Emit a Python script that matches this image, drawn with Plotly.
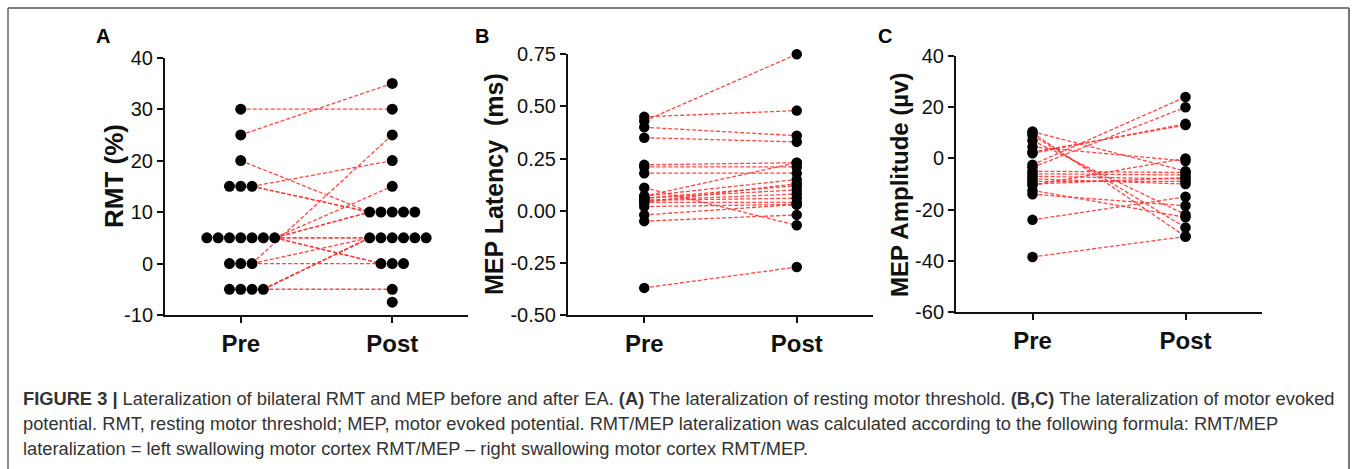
import plotly.graph_objects as go

# ---------------- data ----------------
groups = ["Pre", "Post"]

# Panel A: RMT lateralization (%); one subject has no Pre value
rmt_pre = [30, 25, 20, 15, 15, 15, 0, 0, 0, 5, 5, 5, 5, 5, 5, 5, -5, -5, -5, -5, None]
rmt_post = [30, 35, 10, 20, 10, 10, 25, 0, 5, 15, 10, 10, 5, 5, 0, 0, -5, 5, 5, 5, -7.5]
rmt_ticks = [40, 30, 20, 10, 0, -10]
rmt_ticktext = ["40", "30", "20", "10", "0", "-10"]

# Panel B: MEP latency lateralization (ms)
lat_pre = [0.45, 0.43, 0.40, 0.35, 0.22, 0.21, 0.18, 0.11, 0.07, 0.07,
           0.06, 0.06, 0.05, 0.05, 0.04, 0.04, 0.02, -0.02, -0.05, -0.37]
lat_post = [0.48, 0.75, 0.36, 0.33, 0.23, 0.21, 0.18, -0.07, 0.23, 0.15,
            0.12, 0.10, 0.08, 0.06, 0.04, 0.13, 0.03, 0.03, -0.02, -0.27]
lat_ticks = [0.75, 0.50, 0.25, 0.00, -0.25, -0.50]
lat_ticktext = ["0.75", "0.50", "0.25", "0.00", "-0.25", "-0.50"]

# Panel C: MEP amplitude lateralization (µv)
amp_pre = [10.5, 10, 9, 7, 4.5, 2.5, 2, -2.5, -3.5, -5, -6, -7, -8, -9, -10,
           -10.5, -12.5, -14, -24, -38.5]
amp_post = [-5, -30.5, -27, -22, -1, 13, 13.5, 24, 20, -5.5, -6.5, -8, -10, -9,
            -7.5, 0, -23, -18.5, -15, -30.5]
amp_ticks = [40, 20, 0, -20, -40, -60]
amp_ticktext = ["40", "20", "0", "-20", "-40", "-60"]

caption_lines = [
    "<b>FIGURE 3 |</b> Lateralization of bilateral RMT and MEP before and after EA. "
    "<b>(A)</b> The lateralization of resting motor threshold. <b>(B,C)</b> The lateralization of motor evoked",
    "potential. RMT, resting motor threshold; MEP, motor evoked potential. RMT/MEP lateralization "
    "was calculated according to the following formula: RMT/MEP",
    "lateralization = left swallowing motor cortex RMT/MEP \u2013 right swallowing motor cortex RMT/MEP.",
]

# ---------------- layout helpers ----------------
W, H = 1357, 469
FONT = "Liberation Sans, Arial, sans-serif"
RED = "rgba(255,55,55,0.92)"


def px(x):
    return x / W


def py(y):
    return 1 - y / H


def spread(vals, step):
    """Dot-plot horizontal spreading of identical values."""
    offs = []
    for i, v in enumerate(vals):
        if v is None:
            offs.append(None)
            continue
        same = [j for j, w in enumerate(vals) if w == v]
        k = same.index(i)
        n = len(same)
        offs.append((k - (n - 1) // 2) * step)
    return offs


fig = go.Figure()

panels = [
    dict(pre=rmt_pre, post=rmt_post, ticks=rmt_ticks, ticktext=rmt_ticktext,
         xd=(165, 468), yd=(57.7, 315), spread=True, msize=11,
         title="RMT (%)", tx=114, ty=176, letter="A", lx=103, tsize=26),
    dict(pre=lat_pre, post=lat_post, ticks=lat_ticks, ticktext=lat_ticktext,
         xd=(568, 873), yd=(54.3, 315), spread=False, msize=10.5,
         title="MEP Latency  (ms)", tx=494, ty=184, letter="B", lx=482, tsize=25),
    dict(pre=amp_pre, post=amp_post, ticks=amp_ticks, ticktext=amp_ticktext,
         xd=(956, 1262), yd=(56, 312), spread=False, msize=10.5,
         title="MEP Amplitude (µv)", tx=899, ty=185, letter="C", lx=885, tsize=24),
]

annotations = []
for i, p in enumerate(panels, start=1):
    xa = "x" if i == 1 else f"x{i}"
    ya = "y" if i == 1 else f"y{i}"
    width_px = p["xd"][1] - p["xd"][0]
    unit_px = width_px / 2.0  # x range spans 2 units
    step = (p["msize"] + 0.3) / unit_px
    if p["spread"]:
        off_pre = spread(p["pre"], step)
        off_post = spread(p["post"], step)
    else:
        off_pre = [0 if v is not None else None for v in p["pre"]]
        off_post = [0 for _ in p["post"]]

    # connecting lines (drawn first, under markers)
    for k, (a, b) in enumerate(zip(p["pre"], p["post"])):
        if a is None or b is None:
            continue
        if p["spread"]:
            x0 = max(off_pre[j] for j, v in enumerate(p["pre"]) if v == a)
            x1 = 1 + min(off_post[j] for j, v in enumerate(p["post"]) if v == b)
        else:
            x0, x1 = 0, 1
        fig.add_trace(go.Scatter(
            x=[x0, x1], y=[a, b], mode="lines", xaxis=xa, yaxis=ya,
            line=dict(color=RED, width=1.3, dash="4px,2px"),
            showlegend=False, hoverinfo="skip"))

    xs_pre = [o for o, v in zip(off_pre, p["pre"]) if v is not None]
    ys_pre = [v for v in p["pre"] if v is not None]
    xs_post = [1 + o for o in off_post]
    fig.add_trace(go.Scatter(
        x=xs_pre + xs_post, y=ys_pre + list(p["post"]), mode="markers",
        xaxis=xa, yaxis=ya, cliponaxis=False,
        marker=dict(color="black", size=p["msize"], line=dict(width=0)),
        showlegend=False))

    axis_common = dict(showgrid=False, zeroline=False, showline=True,
                       linecolor="#111", linewidth=2, ticks="outside",
                       tickwidth=2, tickcolor="#111", automargin=False)
    fig.update_layout(**{
        ("xaxis" if i == 1 else f"xaxis{i}"): dict(
            axis_common, domain=[px(p["xd"][0]), px(p["xd"][1])],
            range=[-0.5, 1.5], tickvals=[0, 1],
            ticktext=[f"<b>{g}</b>" for g in groups], ticklen=6,
            anchor=ya, tickfont=dict(family=FONT, size=24, color="#111"),
            ticklabelstandoff=0),
        ("yaxis" if i == 1 else f"yaxis{i}"): dict(
            axis_common, domain=[py(p["yd"][1]), py(p["yd"][0])],
            range=[min(p["ticks"]), max(p["ticks"])], tickvals=p["ticks"],
            ticktext=p["ticktext"], ticklen=6, anchor=xa,
            tickfont=dict(family=FONT, size=20, color="#111")),
    })

    annotations.append(dict(
        text=f"<b>{p['title']}</b>", xref="paper", yref="paper",
        x=px(p["tx"]), y=py(p["ty"]), xanchor="center", yanchor="middle",
        textangle=-90, showarrow=False,
        font=dict(family=FONT, size=p["tsize"], color="#111")))
    annotations.append(dict(
        text=f"<b>{p['letter']}</b>", xref="paper", yref="paper",
        x=px(p["lx"]), y=py(36), xanchor="center", yanchor="middle",
        showarrow=False, font=dict(family=FONT, size=20, color="#000")))

for j, line in enumerate(caption_lines):
    annotations.append(dict(
        text=line, xref="paper", yref="paper", x=px(21), y=py(398 + 25 * j),
        xanchor="left", yanchor="middle", align="left", showarrow=False,
        font=dict(family=FONT, size=18.3, color="#333")))

shapes = [
    dict(type="line", xref="paper", yref="paper", x0=px(8), x1=px(1349),
         y0=py(8), y1=py(8), line=dict(color="#555", width=1.5)),
    dict(type="line", xref="paper", yref="paper", x0=px(8), x1=px(8),
         y0=py(8), y1=0, line=dict(color="#666", width=1.5)),
    dict(type="line", xref="paper", yref="paper", x0=px(1349), x1=px(1349),
         y0=py(8), y1=0, line=dict(color="#777", width=2)),
]

fig.update_layout(
    width=W, height=H, margin=dict(l=0, r=0, t=0, b=0, autoexpand=False),
    paper_bgcolor="white", plot_bgcolor="white",
    annotations=annotations, shapes=shapes, showlegend=False,
    font=dict(family=FONT),
)

fig.write_html(
    "out.html",
    config={"displayModeBar": False},
    post_script="document.body.style.margin='0px';document.body.style.overflow='hidden';",
)
